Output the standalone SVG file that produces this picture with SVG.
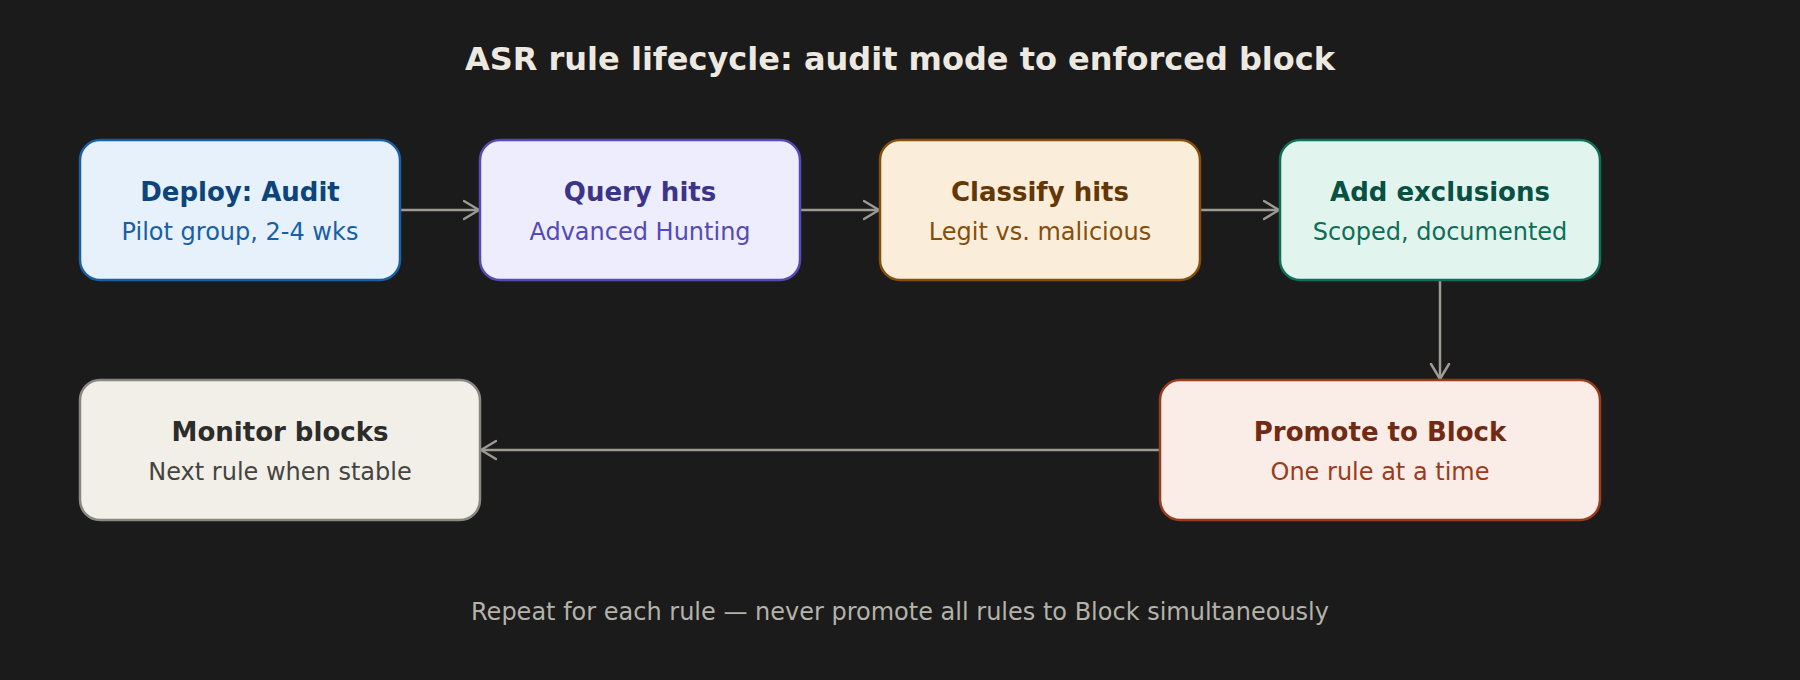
<svg xmlns="http://www.w3.org/2000/svg" width="1800" height="680" viewBox="0 0 1800 680">
  <defs>
    <marker id="arrow" viewBox="-16 -11 18 22" markerWidth="18" markerHeight="22" refX="0" refY="0" orient="auto" markerUnits="userSpaceOnUse">
      <path d="M-15,-9 L0,0 L-15,9" fill="none" stroke="#9c9a92" stroke-width="2.5" stroke-linecap="round" stroke-linejoin="round"/>
    </marker>
    <style>
      .bg { fill: #1b1b1b; }
      .title { font-family: "DejaVu Sans", Verdana, sans-serif; font-size: 32px; font-weight: bold; fill: #ede9e0; text-anchor: middle; }
      .foot { font-family: "DejaVu Sans", Verdana, sans-serif; font-size: 24px; fill: #b4b2a9; text-anchor: middle; }
      .box { stroke-width: 2.5; }
      .h { font-family: "DejaVu Sans", Verdana, sans-serif; font-size: 26px; font-weight: bold; text-anchor: middle; }
      .s { font-family: "DejaVu Sans", Verdana, sans-serif; font-size: 24px; text-anchor: middle; }
      .conn { fill: none; stroke: #9c9a92; stroke-width: 2.5; marker-end: url(#arrow); }
      .blue rect { fill: #e6f1fb; stroke: #185fa5; }
      .blue .h { fill: #0c447c; } .blue .s { fill: #185fa5; }
      .purple rect { fill: #eeedfe; stroke: #534ab7; }
      .purple .h { fill: #3c3489; } .purple .s { fill: #534ab7; }
      .amber rect { fill: #faeeda; stroke: #854f0b; }
      .amber .h { fill: #633806; } .amber .s { fill: #854f0b; }
      .teal rect { fill: #e1f5ee; stroke: #0f6e56; }
      .teal .h { fill: #085041; } .teal .s { fill: #0f6e56; }
      .coral rect { fill: #faece7; stroke: #993c1d; }
      .coral .h { fill: #712b13; } .coral .s { fill: #993c1d; }
      .gray rect { fill: #f1efe8; stroke: #888780; }
      .gray .h { fill: #2c2c2a; } .gray .s { fill: #444441; }
    </style>
  </defs>
  <rect class="bg" x="0" y="0" width="1800" height="680"/>
  <text class="title" x="900" y="70">ASR rule lifecycle: audit mode to enforced block</text>

  <g id="connectors">
    <line class="conn" x1="400" y1="210" x2="479" y2="210"/>
    <line class="conn" x1="800" y1="210" x2="879" y2="210"/>
    <line class="conn" x1="1200" y1="210" x2="1279" y2="210"/>
    <line class="conn" x1="1440" y1="280" x2="1440" y2="379"/>
    <line class="conn" x1="1160" y1="450" x2="481" y2="450"/>
  </g>

  <g id="deploy" class="blue">
    <rect class="box" x="80" y="140" width="320" height="140" rx="20"/>
    <text class="h" x="240" y="201">Deploy: Audit</text>
    <text class="s" x="240" y="240">Pilot group, 2-4 wks</text>
  </g>
  <g id="query" class="purple">
    <rect class="box" x="480" y="140" width="320" height="140" rx="20"/>
    <text class="h" x="640" y="201">Query hits</text>
    <text class="s" x="640" y="240">Advanced Hunting</text>
  </g>
  <g id="classify" class="amber">
    <rect class="box" x="880" y="140" width="320" height="140" rx="20"/>
    <text class="h" x="1040" y="201">Classify hits</text>
    <text class="s" x="1040" y="240">Legit vs. malicious</text>
  </g>
  <g id="exclusions" class="teal">
    <rect class="box" x="1280" y="140" width="320" height="140" rx="20"/>
    <text class="h" x="1440" y="201">Add exclusions</text>
    <text class="s" x="1440" y="240">Scoped, documented</text>
  </g>
  <g id="promote" class="coral">
    <rect class="box" x="1160" y="380" width="440" height="140" rx="20"/>
    <text class="h" x="1380" y="441">Promote to Block</text>
    <text class="s" x="1380" y="480">One rule at a time</text>
  </g>
  <g id="monitor" class="gray">
    <rect class="box" x="80" y="380" width="400" height="140" rx="20"/>
    <text class="h" x="280" y="441">Monitor blocks</text>
    <text class="s" x="280" y="480">Next rule when stable</text>
  </g>

  <text class="foot" x="900" y="620">Repeat for each rule — never promote all rules to Block simultaneously</text>
</svg>
